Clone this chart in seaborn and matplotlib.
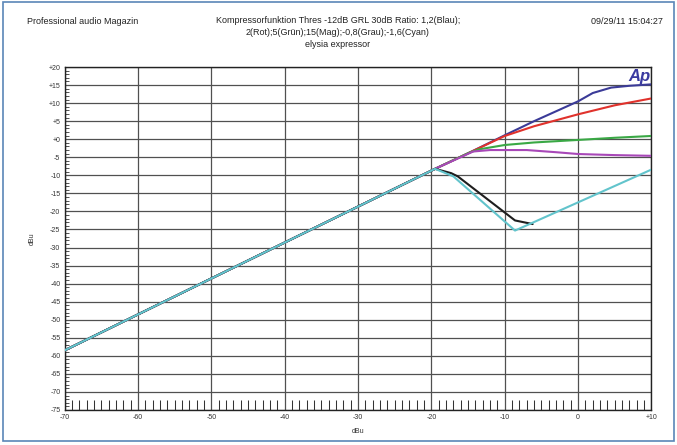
import numpy as np
import pandas as pd
import matplotlib
matplotlib.use("Agg")
import matplotlib.pyplot as plt
from matplotlib.ticker import MultipleLocator
from matplotlib.patches import Rectangle
import seaborn as sns

# ---- data ----
blau_x = [-70, -19.5, -14.8, -10, -6, -2.5, 0, 2, 4.5, 7, 10]
blau_y = [-58.5, -8.2, -3.7, 1.1, 5.0, 8.2, 10.5, 12.8, 14.3, 14.8, 15.2]
rot_x = [-70, -19.5, -14.8, -10, -6, 0, 5, 10]
rot_y = [-58.5, -8.2, -3.7, 0.9, 3.6, 6.9, 9.4, 11.3]
gruen_x = [-70, -19.5, -14.8, -13.5, -10, -6, 0, 5, 10]
gruen_y = [-58.5, -8.2, -3.7, -2.8, -1.6, -0.9, -0.2, 0.4, 0.9]
mag_x = [-70, -19.5, -14.3, -12, -7, -3, 0, 5, 10]
mag_y = [-58.5, -8.2, -3.4, -3.0, -3.0, -3.6, -4.1, -4.4, -4.6]
grau_x = [-70, -19.5, -17.3, -16.4, -8.6, -6.2]
grau_y = [-58.5, -8.2, -9.4, -10.3, -22.5, -23.5]
cyan_x = [-70, -19.5, -17.0, -8.6, 10]
cyan_y = [-58.5, -8.2, -10.3, -25.3, -8.4]

series = ["Blau", "Rot", "Grün", "Mag", "Grau", "Cyan"]
colors = ["#3b3b98", "#e0322c", "#3aa845", "#a848b8", "#1e1e1e", "#62c4cc"]

xticks = list(range(-70, 11, 10))
xticklabels = ["-70", "-60", "-50", "-40", "-30", "-20", "-10", "0", "+10"]
yticks = list(range(-75, 21, 5))
yticklabels = ["+20", "+15", "+10", "+5", "+0"] + [str(v) for v in range(-5, -76, -5)]
yticklabels_sorted = yticklabels[::-1]

frames = []
for name, xs, ys in [("Blau", blau_x, blau_y), ("Rot", rot_x, rot_y),
                     ("Grün", gruen_x, gruen_y), ("Mag", mag_x, mag_y),
                     ("Grau", grau_x, grau_y), ("Cyan", cyan_x, cyan_y)]:
    frames.append(pd.DataFrame({"x": xs, "y": ys, "s": name,
                                "i": np.arange(len(xs))}))
df = pd.concat(frames, ignore_index=True)

sns.set_theme(style="white")
plt.rcParams["font.family"] = ["Liberation Sans", "DejaVu Sans"]

fig = plt.figure(figsize=(6.77, 4.45), dpi=100)
ax = fig.add_axes([0.0954, 0.0787, 0.8669, 0.7707])

for name, col in zip(series, colors):
    sub = df[df["s"] == name]
    sns.lineplot(data=sub, x="x", y="y", color=col, sort=False,
                 estimator=None, lw=1.5, ax=ax, legend=False, zorder=3)

ax.set_xlim(-70, 10)
ax.set_ylim(-75, 20)
ax.set_xticks(xticks)
ax.set_xticklabels(xticklabels)
ax.set_yticks(yticks)
ax.set_yticklabels(yticklabels_sorted)
ax.xaxis.set_minor_locator(MultipleLocator(1))
ax.yaxis.set_minor_locator(MultipleLocator(1))
ax.grid(True, which="major", color="#505050", lw=0.9, zorder=1)
ax.tick_params(axis="both", which="major", labelsize=5, colors="#333333",
               direction="in", length=0, pad=3)
ax.tick_params(axis="x", which="minor", direction="in", length=7.5,
               width=0.75, color="#333333", bottom=True)
ax.tick_params(axis="y", which="minor", direction="in", length=3,
               width=0.6, color="#333333", left=True)
for sp in ax.spines.values():
    sp.set_color("#222222")
    sp.set_linewidth(1.0)
ax.set_xlabel("dBu", fontsize=5, labelpad=5, color="#333333")
ax.set_ylabel("dBu", fontsize=5, labelpad=9, color="#333333")

ax.text(0.998, 0.995, "Ap", transform=ax.transAxes, ha="right", va="top",
        fontsize=12, color="#3a3aa0", fontweight="bold", fontstyle="italic",
        zorder=5)

fig.text(27 / 677, 1 - 22 / 445, "Professional audio Magazin", fontsize=6.5,
         ha="left", va="center", color="#222222")
fig.text(338 / 677, 1 - 16 / 445,
         "Kompressorfunktion Thres -12dB GRL 30dB Ratio: 1,2(Blau);\n"
         "2(Rot);5(Grün);15(Mag);-0,8(Grau);-1,6(Cyan)\n"
         "elysia expressor", fontsize=6.5, ha="center", va="top",
         color="#222222", linespacing=1.4)
fig.text(663 / 677, 1 - 22 / 445, "09/29/11 15:04:27", fontsize=6.5,
         ha="right", va="center", color="#222222")

fig.patches.append(Rectangle((0.004, 0.008), 0.992, 0.988, transform=fig.transFigure,
                             fill=False, edgecolor="#5a86b8", lw=1.2))

fig.savefig("out.png", dpi=100)
